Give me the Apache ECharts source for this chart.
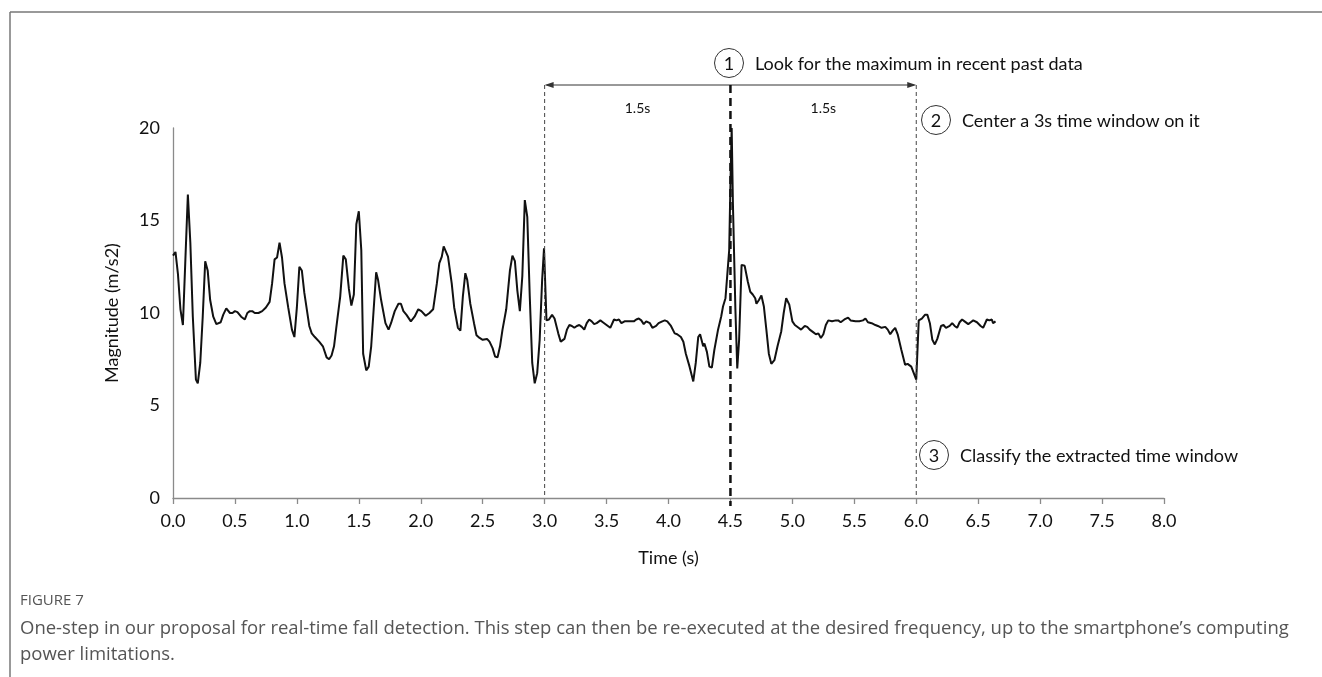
<!DOCTYPE html>
<html>
<head>
<meta charset="utf-8">
<script src="https://cdn.jsdelivr.net/npm/echarts@6/dist/echarts.min.js"></script>
<style>
html,body{margin:0;padding:0;background:#fff;}
#c{width:1322px;height:677px;}
</style>
</head>
<body>
<div id="c"></div>
<script>
const timeS = [0.00,0.02,0.04,0.06,0.08,0.10,0.12,0.14,0.16,0.185,0.20,0.22,0.24,0.26,0.28,0.30,0.325,0.35,0.365,0.385,0.405,0.43,0.46,0.48,0.50,0.52,0.55,0.58,0.60,0.62,0.64,0.66,0.69,0.72,0.75,0.78,0.80,0.82,0.84,0.86,0.88,0.90,0.93,0.96,0.98,1.00,1.02,1.04,1.06,1.10,1.12,1.145,1.18,1.21,1.24,1.26,1.28,1.30,1.32,1.35,1.375,1.395,1.42,1.44,1.46,1.48,1.50,1.52,1.535,1.56,1.58,1.60,1.62,1.64,1.655,1.68,1.715,1.74,1.76,1.79,1.82,1.84,1.86,1.885,1.92,1.95,1.98,2.005,2.04,2.07,2.10,2.13,2.15,2.17,2.185,2.20,2.22,2.25,2.27,2.30,2.32,2.34,2.36,2.375,2.40,2.43,2.45,2.475,2.50,2.535,2.555,2.58,2.60,2.62,2.64,2.66,2.69,2.72,2.74,2.76,2.78,2.80,2.82,2.84,2.86,2.88,2.90,2.92,2.94,2.96,2.98,2.995,3.015,3.035,3.06,3.08,3.11,3.13,3.14,3.16,3.18,3.20,3.22,3.24,3.26,3.28,3.30,3.32,3.34,3.36,3.38,3.40,3.42,3.45,3.47,3.50,3.53,3.545,3.56,3.58,3.60,3.62,3.645,3.67,3.70,3.72,3.74,3.76,3.78,3.80,3.82,3.85,3.87,3.90,3.92,3.95,3.97,3.99,4.02,4.05,4.07,4.10,4.12,4.14,4.17,4.20,4.22,4.24,4.255,4.28,4.29,4.31,4.33,4.35,4.37,4.40,4.425,4.44,4.46,4.47,4.49,4.50,4.51,4.52,4.54,4.555,4.57,4.59,4.615,4.64,4.66,4.68,4.70,4.71,4.73,4.75,4.77,4.79,4.81,4.83,4.855,4.88,4.91,4.93,4.95,4.975,5.00,5.02,5.05,5.07,5.10,5.12,5.14,5.17,5.19,5.21,5.23,5.25,5.27,5.29,5.32,5.35,5.37,5.39,5.42,5.45,5.47,5.51,5.54,5.57,5.59,5.61,5.64,5.67,5.69,5.72,5.75,5.77,5.79,5.81,5.83,5.85,5.88,5.91,5.93,5.96,5.98,6.00,6.02,6.045,6.07,6.09,6.11,6.13,6.15,6.17,6.20,6.22,6.24,6.27,6.29,6.31,6.33,6.35,6.37,6.39,6.42,6.44,6.46,6.49,6.52,6.54,6.57,6.59,6.61,6.62,6.64];
const magnitude = [13.1,13.3,12.1,10.2,9.35,12.9,16.4,13.8,9.8,6.4,6.2,7.3,9.8,12.8,12.3,10.7,9.8,9.4,9.35,9.5,9.9,10.25,10.0,10.0,10.1,10.05,9.8,9.65,10.0,10.1,10.1,10.0,10.0,10.1,10.3,10.6,11.6,12.9,13.0,13.8,13.0,11.6,10.3,9.1,8.7,10.3,12.5,12.3,11.1,9.3,8.9,8.7,8.45,8.2,7.6,7.5,7.7,8.2,9.3,10.9,13.1,12.9,11.3,10.4,11.0,14.8,15.5,13.4,7.8,6.9,7.1,8.2,10.2,12.2,11.8,10.7,9.45,9.1,9.45,10.1,10.5,10.5,10.1,9.9,9.55,9.8,10.2,10.1,9.85,10.0,10.2,11.6,12.7,13.05,13.6,13.7,13.05,11.6,10.3,9.2,9.05,10.9,12.15,11.8,10.5,9.45,8.8,8.65,8.55,8.6,8.45,8.1,7.65,7.6,8.2,9.1,10.2,12.3,13.1,12.8,11.2,10.1,12.0,16.1,15.2,10.9,7.3,6.2,6.75,8.55,11.8,13.5,9.6,9.65,9.9,9.7,8.9,8.45,8.35,8.6,9.1,9.35,9.3,9.2,9.3,9.35,9.25,9.1,9.45,9.65,9.55,9.4,9.45,9.6,9.5,9.35,9.2,9.3,9.65,9.6,9.65,9.45,9.55,9.55,9.55,9.55,9.65,9.7,9.6,9.4,9.55,9.45,9.2,9.3,9.45,9.55,9.6,9.55,9.3,8.9,8.85,8.7,8.45,7.8,7.1,6.3,7.3,8.7,8.85,8.2,8.35,7.9,7.1,7.05,8.0,9.1,9.8,10.35,10.8,10.7,13.4,17.0,20.0,15.9,10.2,7.0,8.55,12.6,12.55,11.7,11.15,11.0,10.8,10.5,10.7,10.95,10.35,9.1,7.8,7.25,7.45,8.2,9.0,10.0,10.8,10.45,9.55,9.35,9.2,9.1,9.3,9.25,9.1,8.95,8.85,8.9,8.65,8.85,9.35,9.6,9.55,9.6,9.6,9.5,9.65,9.75,9.6,9.55,9.55,9.6,9.7,9.5,9.45,9.35,9.3,9.2,9.25,9.1,8.85,9.05,9.2,8.85,8.0,7.2,7.25,7.1,6.75,6.4,9.6,9.7,9.9,9.9,9.45,8.55,8.3,8.6,9.3,9.35,9.2,9.3,9.45,9.3,9.2,9.5,9.65,9.55,9.4,9.5,9.6,9.5,9.3,9.2,9.65,9.6,9.65,9.45,9.55];

const windowStart = 3.0, peakTime = 4.5, windowEnd = 6.0;
const halfLabel = '1.5s';
const steps = ['Look for the maximum in recent past data','Center a 3s time window on it','Classify the extracted time window'];
const captionTitle = 'FIGURE 7';
const captionLines = ['One-step in our proposal for real-time fall detection. This step can then be re-executed at the desired frequency, up to the smartphone\u2019s computing','power limitations.'];

const FONT = 'Lato, "Open Sans", sans-serif';
const CAP = '"Open Sans", sans-serif';
const chart = echarts.init(document.getElementById('c'), null, {renderer:'canvas'});
const seriesData = timeS.map((t,i)=>[t, magnitude[i]]);

chart.setOption({
  animation:false,
  backgroundColor:'#fff',
  grid:{left:173,right:158,top:128,bottom:179,containLabel:false},
  xAxis:{type:'value',min:0,max:8,interval:0.5,
    name:'Time (s)',nameLocation:'middle',nameGap:51,
    nameTextStyle:{fontFamily:FONT,fontSize:18,color:'#111'},
    axisLine:{lineStyle:{color:'#8a8a8a',width:1.3}},
    axisTick:{show:true,length:6,lineStyle:{color:'#8a8a8a',width:1.3}},
    axisLabel:{fontFamily:FONT,fontSize:18,color:'#111',margin:14,formatter:v=>v.toFixed(1)},
    splitLine:{show:false}},
  yAxis:{type:'value',min:0,max:20,interval:5,
    name:'Magnitude (m/s2)',nameLocation:'middle',nameGap:52,nameRotate:90,
    nameTextStyle:{fontFamily:FONT,fontSize:18,color:'#111'},
    axisLine:{show:true,lineStyle:{color:'#8a8a8a',width:1.3}},
    axisTick:{show:false},
    axisLabel:{fontFamily:FONT,fontSize:18,color:'#111',margin:13},
    splitLine:{show:false}},
  series:[{type:'line',data:seriesData,showSymbol:false,clip:false,
    lineStyle:{color:'#111',width:2},z:3}]
});

function px(x,y){return chart.convertToPixel({gridIndex:0},[x,y]);}
const topY = 85;
const xs = px(windowStart,0), xp = px(peakTime,0), xe = px(windowEnd,0);
const g = [];
// frame
g.push({type:'line',shape:{x1:10,y1:12,x2:10,y2:677},style:{stroke:'#777',lineWidth:1.5}});
g.push({type:'line',shape:{x1:10,y1:12,x2:1322,y2:12},style:{stroke:'#777',lineWidth:1.5}});
// thin dashed window bounds
[xs,xe].forEach(p=>{
  g.push({type:'line',shape:{x1:p[0],y1:topY,x2:p[0],y2:p[1]},style:{stroke:'#444',lineWidth:1,lineDash:[4,3]},z:5});
});
// thick dashed at peak
g.push({type:'line',shape:{x1:xp[0],y1:topY,x2:xp[0],y2:xp[1]+8},style:{stroke:'#111',lineWidth:2.5,lineDash:[8,5]},z:6});
// arrow
g.push({type:'line',shape:{x1:xs[0]+2,y1:topY,x2:xe[0]-2,y2:topY},style:{stroke:'#333',lineWidth:1},z:5});
g.push({type:'polygon',shape:{points:[[xs[0],topY],[xs[0]+9,topY-3],[xs[0]+9,topY+3]]},style:{fill:'#333'},z:5});
g.push({type:'polygon',shape:{points:[[xe[0],topY],[xe[0]-9,topY-3],[xe[0]-9,topY+3]]},style:{fill:'#333'},z:5});
// 1.5s labels
g.push({type:'text',x:(xs[0]+xp[0])/2,y:108,style:{text:halfLabel,font:'14px '+FONT,fill:'#111',align:'center',verticalAlign:'middle'}});
g.push({type:'text',x:(xp[0]+xe[0])/2,y:108,style:{text:halfLabel,font:'14px '+FONT,fill:'#111',align:'center',verticalAlign:'middle'}});
// step labels
const stepPos = [[729,63],[936,120],[934,455]];
stepPos.forEach((s,i)=>{
  g.push({type:'circle',shape:{cx:s[0],cy:s[1],r:14.5},style:{fill:'#fff',stroke:'#333',lineWidth:1},z:7});
  g.push({type:'text',x:s[0],y:s[1]+1,style:{text:String(i+1),font:'18px '+FONT,fill:'#111',align:'center',verticalAlign:'middle'},z:8});
  g.push({type:'text',x:s[0]+26,y:s[1]+1,style:{text:steps[i],font:'18px '+FONT,fill:'#111',align:'left',verticalAlign:'middle'},z:8});
});
// caption
g.push({type:'text',x:20,y:601,style:{text:captionTitle,font:'15px '+CAP,fill:'#555',align:'left',verticalAlign:'middle'}});
g.push({type:'text',x:20,y:629,style:{text:captionLines[0],font:'18.5px '+CAP,fill:'#555',align:'left',verticalAlign:'middle'}});
g.push({type:'text',x:20,y:655,style:{text:captionLines[1],font:'18.5px '+CAP,fill:'#555',align:'left',verticalAlign:'middle'}});
chart.setOption({graphic:g});
</script>
</body>
</html>
